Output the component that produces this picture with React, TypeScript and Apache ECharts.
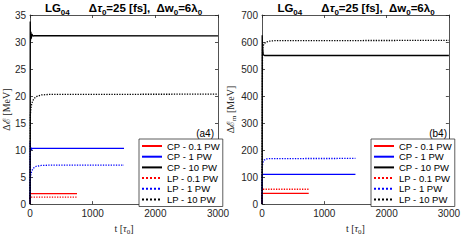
import React, { useEffect, useRef } from "react";
import * as echarts from "echarts";

const legendNames = ["CP - 0.1 PW", "CP - 1 PW", "CP - 10 PW", "LP - 0.1 PW", "LP - 1 PW", "LP - 10 PW"];
const seriesColors = ["#ff0000", "#0000ff", "#000000", "#ff0000", "#0000ff", "#000000"];
const seriesDotted = [false, false, false, true, true, true];

// panel (a4): ΔE [MeV] vs t [τ0]
const a_cp01 = [[0, 0], [4, 1.95], [750, 1.95]];
const a_cp1 = [[0, 0], [3, 11.6], [8, 9.9], [14, 10.5], [22, 10.1], [35, 10.3], [1500, 10.3]];
const a_cp10 = [[0, 0], [3, 33.8], [8, 30.3], [14, 31.9], [20, 30.6], [30, 31.5], [45, 31.1], [70, 31.2], [3000, 31.15]];
const a_lp01 = [[0, 0], [4, 1.3], [750, 1.3]];
const a_lp1 = [[0, 0], [5, 4.5], [15, 5.6], [30, 6.2], [60, 6.7], [100, 7.0], [180, 7.15], [300, 7.2], [1500, 7.2]];
const a_lp10 = [[0, 0], [5, 16.5], [15, 17.8], [30, 18.7], [60, 19.5], [100, 19.9], [180, 20.2], [300, 20.3], [3000, 20.35]];

// panel (b4): ΔE_m [MeV] vs t [τ0]
const b_cp01 = [[0, 0], [4, 40], [750, 40]];
const b_cp1 = [[0, 0], [4, 110], [1500, 110]];
const b_cp10 = [[0, 0], [3, 625], [6, 600], [12, 575], [20, 553], [40, 550], [3000, 550]];
const b_lp01 = [[0, 0], [4, 55], [750, 55]];
const b_lp1 = [[0, 0], [5, 140], [15, 155], [35, 163], [70, 167], [120, 168.5], [1500, 169]];
const b_lp10 = [[0, 0], [8, 575], [15, 582], [30, 592], [60, 599], [110, 603], [200, 605], [3000, 606]];

const xTicks = { min: 0, max: 3000, interval: 1000 };
const yTicksA = { min: 0, max: 35, interval: 5 };
const yTicksB = { min: 0, max: 700, interval: 100 };

const panelA = [a_cp01, a_cp1, a_cp10, a_lp01, a_lp1, a_lp10];
const panelB = [b_cp01, b_cp1, b_cp10, b_lp01, b_lp1, b_lp10];

const AXIS_COLOR = "#262626";
const SANS = "Liberation Sans, Arial, Helvetica, sans-serif";
const SERIF = "Liberation Serif, DejaVu Serif, serif";

function mainAxis(ticks: any, gridIndex: number, extra: any = {}) {
  return {
    type: "value",
    gridIndex,
    min: ticks.min,
    max: ticks.max,
    interval: ticks.interval,
    splitLine: { show: false },
    axisLine: { show: true, onZero: false, lineStyle: { color: AXIS_COLOR, width: 0.8 } },
    axisTick: { show: true, inside: true, length: 3, lineStyle: { color: AXIS_COLOR, width: 0.8 } },
    axisLabel: { color: AXIS_COLOR, fontSize: 10, fontFamily: SANS, margin: 4, formatter: (v: number) => String(v) },
    ...extra,
  };
}

function mirrorAxis(position: string, ticks: any, gridIndex: number) {
  return {
    type: "value",
    gridIndex,
    position,
    min: ticks.min,
    max: ticks.max,
    interval: ticks.interval,
    splitLine: { show: false },
    axisLine: { show: true, onZero: false, lineStyle: { color: AXIS_COLOR, width: 0.8 } },
    axisTick: { show: true, inside: true, length: 3, lineStyle: { color: AXIS_COLOR, width: 0.8 } },
    axisLabel: { show: false },
  };
}

function titleText() {
  return "{b|LG}{s|04}{b|      Δ}{bi|τ}{s|0}{b|=25 [fs],  Δw}{s|0}{b|=6λ}{s|0}";
}

const titleRich = {
  b: { fontSize: 11.5, fontWeight: "bold", fontFamily: SANS, color: "#000", lineHeight: 17, verticalAlign: "middle" },
  bi: { fontSize: 11.5, fontWeight: "bold", fontStyle: "italic", fontFamily: SANS, color: "#000", lineHeight: 17, verticalAlign: "middle" },
  s: { fontSize: 8, fontWeight: "bold", fontFamily: SANS, color: "#000", lineHeight: 17, verticalAlign: "bottom" },
};

const nameRich = {
  n: { fontSize: 10, fontFamily: SERIF, color: AXIS_COLOR, lineHeight: 14, verticalAlign: "middle" },
  ni: { fontSize: 10, fontFamily: SERIF, fontStyle: "italic", color: AXIS_COLOR, lineHeight: 14, verticalAlign: "middle" },
  s: { fontSize: 7, fontFamily: SERIF, color: AXIS_COLOR, lineHeight: 14, verticalAlign: "bottom" },
};

function buildSeries(data: number[][][], xi: number, yi: number) {
  return data.map((d, i) => ({
    type: "line",
    name: legendNames[i],
    xAxisIndex: xi,
    yAxisIndex: yi,
    data: d,
    symbol: "none",
    showSymbol: false,
    smooth: false,
    z: i === 2 || i === 5 ? 4 : 3,
    lineStyle: { color: seriesColors[i], width: 1.3, type: seriesDotted[i] ? "dotted" : "solid" },
    itemStyle: { color: seriesColors[i] },
  }));
}

function legendAt(left: number) {
  return {
    left,
    top: 139,
    orient: "vertical",
    data: legendNames,
    selectedMode: false,
    itemWidth: 20,
    itemHeight: 8,
    itemGap: 0.7,
    itemStyle: { opacity: 0 },
    textStyle: { fontSize: 9.5, fontFamily: SANS, color: "#000", lineHeight: 10 },
    borderColor: "#333",
    borderWidth: 0.8,
    borderRadius: 0,
    backgroundColor: "#fff",
    padding: [2, 3, 2, 2],
  };
}

const xName = {
  name: "{n|t [}{ni|τ}{s|0}{n|]}",
  nameLocation: "middle",
  nameGap: 13,
  nameTextStyle: { rich: nameRich },
};

export default function App() {
  const ref = useRef<HTMLDivElement>(null);
  useEffect(() => {
    if (!ref.current) return;
    const chart = echarts.init(ref.current, null, { renderer: "svg" });
    const option: any = {
      animation: false,
      backgroundColor: "#fff",
      grid: [
        { left: 29, right: 245, top: 15, bottom: 31 },
        { left: 262, right: 13, top: 15, bottom: 31 },
      ],
      xAxis: [
        mainAxis(xTicks, 0, { position: "bottom", ...xName }),
        mirrorAxis("top", xTicks, 0),
        mainAxis(xTicks, 1, { position: "bottom", ...xName }),
        mirrorAxis("top", xTicks, 1),
      ],
      yAxis: [
        mainAxis(yTicksA, 0, {
          position: "left",
          name: "{n|Δℰ [MeV]}",
          nameLocation: "middle",
          nameGap: 16,
          nameTextStyle: { rich: nameRich },
        }),
        mirrorAxis("right", yTicksA, 0),
        mainAxis(yTicksB, 1, {
          position: "left",
          name: "{n|Δℰ}{s|m}{n| [MeV]}",
          nameLocation: "middle",
          nameGap: 18,
          nameTextStyle: { rich: nameRich },
        }),
        mirrorAxis("right", yTicksB, 1),
      ],
      legend: [legendAt(139), legendAt(371)],
      graphic: [
        { type: "text", x: 123.5, y: -1, style: { text: titleText(), rich: titleRich, align: "center", verticalAlign: "top" } },
        { type: "text", x: 356, y: -1, style: { text: titleText(), rich: titleRich, align: "center", verticalAlign: "top" } },
        { type: "text", x: 214, y: 133.5, style: { text: "(a4)", font: "10px " + SANS, fill: "#000", align: "right", verticalAlign: "middle" } },
        { type: "text", x: 447, y: 133.5, style: { text: "(b4)", font: "10px " + SANS, fill: "#000", align: "right", verticalAlign: "middle" } },
      ],
      series: [...buildSeries(panelA, 0, 0), ...buildSeries(panelB, 2, 2)],
    };
    chart.setOption(option);
    return () => chart.dispose();
  }, []);
  return <div ref={ref} style={{ width: 463, height: 240, position: "absolute", left: 0, top: 0 }} />;
}
